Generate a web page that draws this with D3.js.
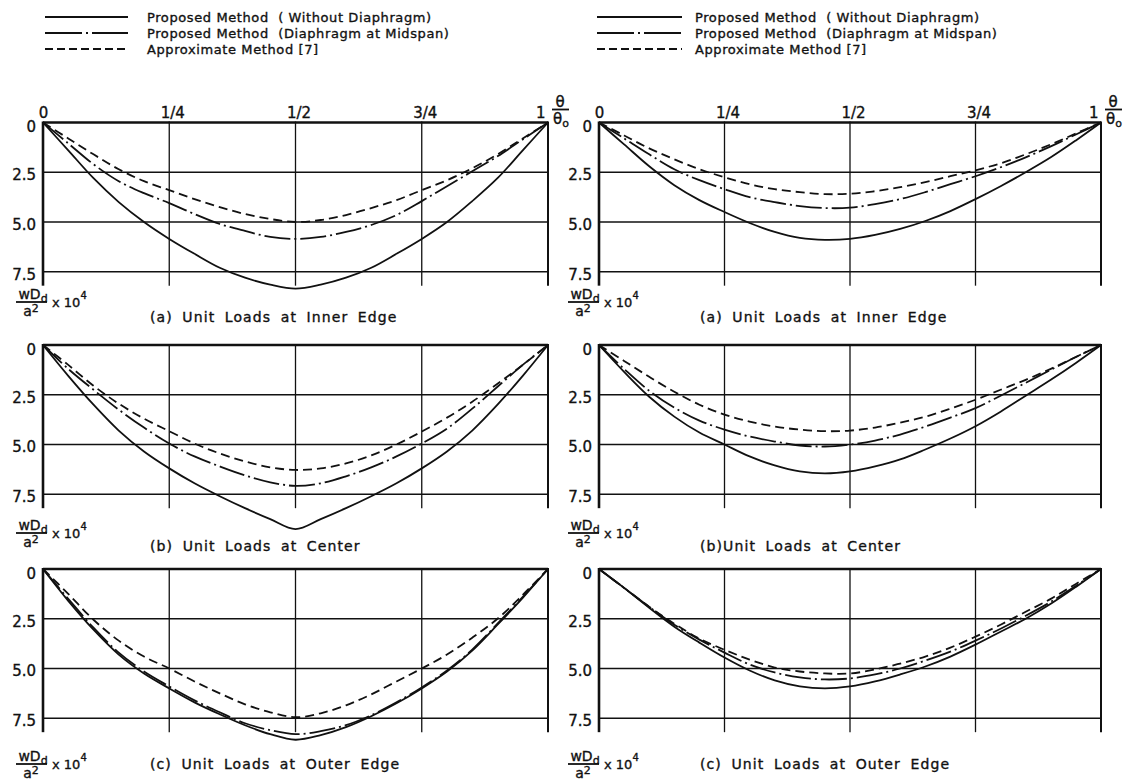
<!DOCTYPE html>
<html>
<head>
<meta charset="utf-8">
<script src="https://cdn.jsdelivr.net/npm/d3@7"></script>
<style>
  body { margin: 0; background: #fff; }
  svg { display: block; font-family: "DejaVu Sans", sans-serif; }
  text { fill: #111; stroke: #111; stroke-width: 0.35px; }
</style>
</head>
<body>
<div id="chart"></div>
<script>
// sample positions along the span (theta / theta0)
const theta = [0, 0.05, 0.1, 0.15, 0.2, 0.25, 0.3, 0.35, 0.4, 0.45, 0.5,
               0.55, 0.6, 0.65, 0.7, 0.75, 0.8, 0.85, 0.9, 0.95, 1];

const xTicks = [0, 0.25, 0.5, 0.75, 1];
const xTickLabels = ["0", "1/4", "1/2", "3/4", "1"];
const yTicks = [0, 2.5, 5.0, 7.5];
const yTickLabels = ["0", "2.5", "5.0", "7.5"];

const legendLabels = [
  "Proposed Method  ( Without Diaphragm)",
  "Proposed Method  (Diaphragm at Midspan)",
  "Approximate Method [7]"
];

const leftTitles = ["(a) Unit Loads at Inner Edge", "(b) Unit Loads at Center", "(c) Unit Loads at Outer Edge"];
const rightTitles = ["(a) Unit Loads at Inner Edge", "(b)Unit Loads at Center", "(c) Unit Loads at Outer Edge"];

// left column -- deflection wDd/a^2 x 10^4
const leftInnerSolid  = [0, 1.4, 2.8, 4.0, 5.0, 5.85, 6.6, 7.3, 7.8, 8.15, 8.35, 8.15, 7.8, 7.3, 6.6, 5.85, 5.0, 3.95, 2.8, 1.4, 0];
const leftInnerDiaph  = [0, 1.05, 2.1, 2.95, 3.55, 4.05, 4.6, 5.1, 5.45, 5.75, 5.85, 5.75, 5.5, 5.15, 4.65, 3.95, 3.2, 2.45, 1.7, 0.85, 0];
const leftInnerApprox = [0, 0.8, 1.6, 2.35, 2.95, 3.4, 3.85, 4.25, 4.6, 4.85, 5.0, 4.9, 4.65, 4.3, 3.9, 3.4, 2.9, 2.3, 1.6, 0.8, 0];

const leftCenterSolid  = [0, 1.55, 3.0, 4.3, 5.35, 6.2, 6.95, 7.6, 8.2, 8.75, 9.25, 8.75, 8.2, 7.6, 6.95, 6.2, 5.35, 4.3, 3.0, 1.55, 0];
const leftCenterDiaph  = [0, 1.2, 2.25, 3.25, 4.15, 4.95, 5.6, 6.1, 6.55, 6.9, 7.08, 6.95, 6.6, 6.15, 5.6, 4.95, 4.2, 3.2, 2.1, 1.0, 0];
const leftCenterApprox = [0, 1.0, 2.05, 2.95, 3.7, 4.33, 4.95, 5.45, 5.85, 6.15, 6.28, 6.2, 5.95, 5.55, 5.0, 4.35, 3.65, 2.85, 1.95, 1.0, 0];

const leftOuterSolid  = [0, 1.6, 3.05, 4.3, 5.25, 6.0, 6.7, 7.3, 7.85, 8.3, 8.58, 8.35, 7.95, 7.4, 6.75, 6.0, 5.15, 4.1, 2.8, 1.45, 0];
const leftOuterDiaph  = [0, 1.5, 2.95, 4.2, 5.15, 5.9, 6.6, 7.2, 7.75, 8.1, 8.3, 8.15, 7.85, 7.35, 6.7, 5.95, 5.1, 4.05, 2.75, 1.4, 0];
const leftOuterApprox = [0, 1.25, 2.55, 3.6, 4.4, 5.0, 5.65, 6.25, 6.8, 7.2, 7.45, 7.25, 6.85, 6.3, 5.65, 5.0, 4.3, 3.45, 2.5, 1.3, 0];

// right column
const rightInnerSolid  = [0, 1.1, 2.2, 3.15, 3.9, 4.5, 5.05, 5.5, 5.8, 5.9, 5.85, 5.65, 5.35, 4.95, 4.45, 3.85, 3.2, 2.5, 1.75, 0.9, 0];
const rightInnerDiaph  = [0, 0.8, 1.6, 2.35, 2.9, 3.35, 3.75, 4.0, 4.2, 4.3, 4.28, 4.1, 3.85, 3.5, 3.1, 2.7, 2.25, 1.75, 1.2, 0.6, 0];
const rightInnerApprox = [0, 0.65, 1.3, 1.85, 2.35, 2.75, 3.1, 3.35, 3.5, 3.6, 3.58, 3.45, 3.25, 3.0, 2.7, 2.4, 2.05, 1.6, 1.1, 0.55, 0];

const rightCenterSolid  = [0, 1.35, 2.6, 3.6, 4.4, 5.0, 5.6, 6.05, 6.35, 6.45, 6.35, 6.1, 5.75, 5.25, 4.7, 4.08, 3.35, 2.55, 1.75, 0.9, 0];
const rightCenterDiaph  = [0, 1.2, 2.3, 3.15, 3.8, 4.25, 4.6, 4.85, 5.05, 5.1, 5.0, 4.8, 4.5, 4.1, 3.65, 3.17, 2.55, 1.9, 1.25, 0.6, 0];
const rightCenterApprox = [0, 0.8, 1.6, 2.35, 3.0, 3.5, 3.85, 4.1, 4.25, 4.33, 4.3, 4.15, 3.9, 3.6, 3.2, 2.75, 2.25, 1.75, 1.2, 0.6, 0];

const rightOuterSolid  = [0, 0.95, 1.95, 2.9, 3.7, 4.45, 5.1, 5.6, 5.9, 6.0, 5.9, 5.65, 5.3, 4.9, 4.4, 3.8, 3.15, 2.5, 1.75, 0.9, 0];
const rightOuterDiaph  = [0, 0.95, 1.9, 2.8, 3.55, 4.2, 4.8, 5.2, 5.45, 5.55, 5.5, 5.3, 5.0, 4.6, 4.15, 3.6, 3.0, 2.35, 1.65, 0.85, 0];
const rightOuterApprox = [0, 0.95, 1.9, 2.75, 3.5, 4.06, 4.55, 4.95, 5.15, 5.25, 5.25, 5.05, 4.75, 4.4, 3.95, 3.4, 2.8, 2.15, 1.5, 0.75, 0];

// ---------------------------------------------------------------
const W = 1127, H = 780;
const svg = d3.select('#chart').append('svg')
  .attr('width', W).attr('height', H);

const dashes = ['none', '26,4,2,4', '9,5'];

// column / row placement
const cols = [
  { x0: 43, x1: 548, titleX: 150, fracX: 33, tickX: 36, titles: leftTitles,
    series: [[leftInnerSolid, leftInnerDiaph, leftInnerApprox],
             [leftCenterSolid, leftCenterDiaph, leftCenterApprox],
             [leftOuterSolid, leftOuterDiaph, leftOuterApprox]] },
  { x0: 599, x1: 1101, titleX: 700, fracX: 585, tickX: 592, titles: rightTitles,
    series: [[rightInnerSolid, rightInnerDiaph, rightInnerApprox],
             [rightCenterSolid, rightCenterDiaph, rightCenterApprox],
             [rightOuterSolid, rightOuterDiaph, rightOuterApprox]] }
];
const rowTops = [122.5, 345, 569];
const fracY = [302, 533, 764];
const titleY = [322, 551, 769];
const unitPx = 19.9;

cols.forEach((col, ci) => {
  rowTops.forEach((top, ri) => {
    const x = d3.scaleLinear().domain([0, 1]).range([col.x0, col.x1]);
    const y = d3.scaleLinear().domain([0, 7.5]).range([top, top + 7.5 * unitPx]);
    const yBottom = y(8.2);
    const g = svg.append('g');

    // horizontal grid lines
    g.selectAll('.hgrid').data(yTicks).enter().append('line')
      .attr('x1', x(0)).attr('x2', x(1))
      .attr('y1', d => y(d)).attr('y2', d => y(d))
      .attr('stroke', '#111')
      .attr('stroke-width', d => d === 0 ? 2.6 : 1.3);

    // vertical grid lines
    g.selectAll('.vgrid').data(xTicks).enter().append('line')
      .attr('x1', d => x(d)).attr('x2', d => x(d))
      .attr('y1', y(0) - 1).attr('y2', yBottom)
      .attr('stroke', '#111')
      .attr('stroke-width', d => d === 0 ? 2.6 : (d === 1 ? 2 : 1.3));

    // y tick labels
    const yAxis = d3.axisLeft(y).tickValues(yTicks).tickSize(0)
      .tickFormat((d, i) => yTickLabels[i]);
    const ya = g.append('g')
      .attr('transform', `translate(${col.tickX},0)`)
      .call(yAxis);
    ya.select('.domain').remove();
    ya.selectAll('text')
      .attr('x', 0).attr('dy', '0.36em')
      .style('font-size', '15px')
      .style('font-family', '"DejaVu Sans", sans-serif')
      .attr('fill', '#111')
      .attr('transform', (d) => d === 0 ? 'translate(0,4)' : 'translate(0,2)');

    // x tick labels on the top row only
    if (ri === 0) {
      const xAxis = d3.axisTop(x).tickValues(xTicks).tickSize(0)
        .tickFormat((d, i) => xTickLabels[i]);
      const xa = g.append('g')
        .attr('transform', `translate(0,${top - 5})`)
        .call(xAxis);
      xa.select('.domain').remove();
      xa.selectAll('text')
        .attr('y', 0)
        .style('font-size', '15px')
        .style('font-family', '"DejaVu Sans", sans-serif')
        .attr('fill', '#111')
        .attr('text-anchor', d => d === 1 ? 'end' : 'middle')
        .attr('dx', d => d === 0 ? 0 : (d === 1 ? -3 : 3));

      // theta / theta0 fraction
      const fx = x(1) + 12;
      const ft = g.append('g').attr('transform', `translate(${fx},${top - 14})`);
      ft.append('text').attr('x', 0).attr('y', -2).attr('text-anchor', 'middle')
        .style('font-size', '15px').text('θ');
      ft.append('line').attr('x1', -8).attr('x2', 9).attr('y1', 1).attr('y2', 1)
        .attr('stroke', '#111').attr('stroke-width', 1.8);
      const t0 = ft.append('text').attr('x', 1).attr('y', 15).attr('text-anchor', 'middle')
        .style('font-size', '15px');
      t0.append('tspan').text('θ');
      t0.append('tspan').attr('dy', 3).style('font-size', '11px').text('o');
    }

    // curves
    const line = d3.line()
      .x((d, i) => x(theta[i]))
      .y(d => y(d))
      .curve(d3.curveCatmullRom.alpha(0.5));
    col.series[ri].forEach((vals, si) => {
      g.append('path')
        .datum(vals)
        .attr('d', line)
        .attr('fill', 'none')
        .attr('stroke', '#111')
        .attr('stroke-width', 1.8)
        .attr('stroke-dasharray', dashes[si]);
    });

    // y-axis quantity label: wDd / a^2 x 10^4
    const fy = fracY[ri];
    const fl = svg.append('g').attr('transform', `translate(${col.fracX},${fy})`);
    const num = fl.append('text').attr('x', 0).attr('y', -3).attr('text-anchor', 'middle')
      .style('font-size', '14px');
    num.append('tspan').text('wD');
    num.append('tspan').attr('dy', 3).style('font-size', '11px').text('d');
    fl.append('line').attr('x1', -17).attr('x2', 14).attr('y1', 0).attr('y2', 0)
      .attr('stroke', '#111').attr('stroke-width', 1.8);
    const den = fl.append('text').attr('x', -2).attr('y', 14).attr('text-anchor', 'middle')
      .style('font-size', '14px');
    den.append('tspan').text('a');
    den.append('tspan').attr('dy', -4).style('font-size', '11px').text('2');
    const mult = fl.append('text').attr('x', 19).attr('y', 5).style('font-size', '13px');
    mult.append('tspan').text('x 10');
    mult.append('tspan').attr('dy', -8).style('font-size', '10px').text('4');

    // panel title
    svg.append('text')
      .attr('x', col.titleX).attr('y', titleY[ri])
      .style('font-size', '14px')
      .style('letter-spacing', '1.1px')
      .style('word-spacing', '4px')
      .text(col.titles[ri]);
  });

  // legend
  const lg = svg.append('g');
  const lx0 = ci === 0 ? 45 : 597;
  const lx1 = ci === 0 ? 128 : 682;
  const tx = ci === 0 ? 147 : 695;
  const legendDash = ['none', '37,4,2,4', '8,4'];
  legendLabels.forEach((lab, i) => {
    const ly = 17 + i * 16;
    lg.append('line').attr('x1', lx0).attr('x2', lx1).attr('y1', ly).attr('y2', ly)
      .attr('stroke', '#111').attr('stroke-width', 1.8)
      .attr('stroke-dasharray', legendDash[i]);
    lg.append('text').attr('x', tx).attr('y', ly + 5)
      .style('font-size', '13px')
      .style('letter-spacing', '0.6px')
      .style('white-space', 'pre')
      .text(lab);
  });
});
</script>
</body>
</html>
